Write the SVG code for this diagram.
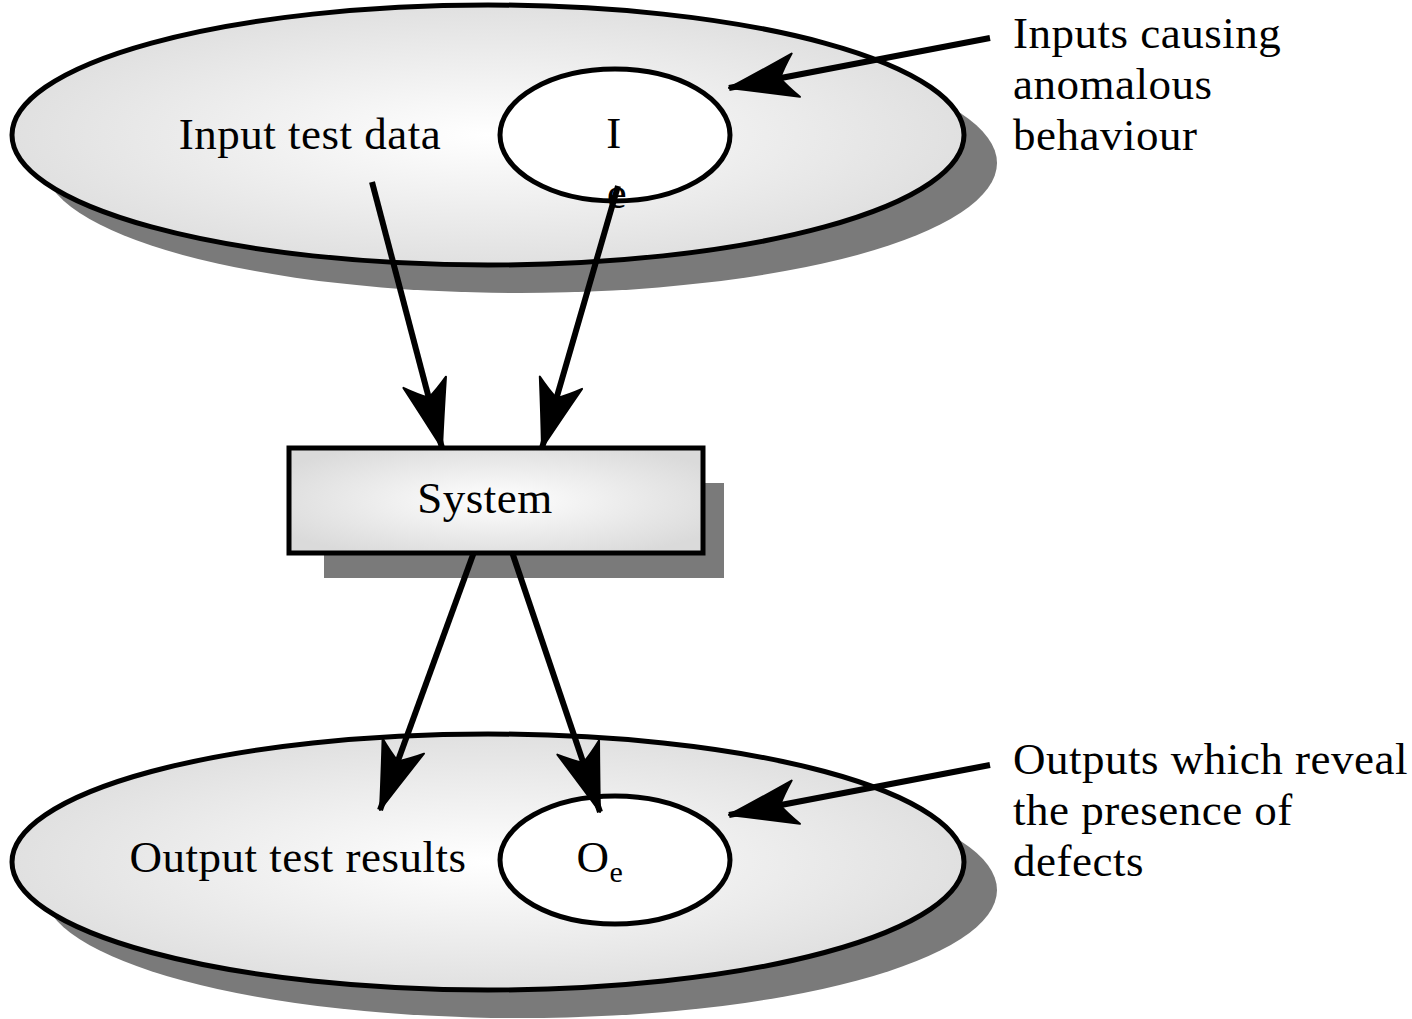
<svg xmlns="http://www.w3.org/2000/svg" width="1412" height="1019" viewBox="0 0 1412 1019">
<style>
.shadow{fill:#7a7a7a;stroke:none}
.shape{fill:url(#g);stroke:#000;stroke-width:5}
.inner{fill:#fff;stroke:#000;stroke-width:5}
.lbl{font-family:"Liberation Serif","Times New Roman",serif;font-size:45px;letter-spacing:0.5px;fill:#000}
.conn{stroke:#000;stroke-width:6;fill:none;marker-end:url(#ah)}
</style>
<defs>
<radialGradient id="g" cx="0.5" cy="0.5" r="0.6">
<stop offset="0" stop-color="#ffffff"/>
<stop offset="1" stop-color="#dadada"/>
</radialGradient>
<marker id="ah" markerUnits="userSpaceOnUse" markerWidth="80" markerHeight="50" viewBox="-72 -25 76 50" refX="0" refY="0" orient="auto">
<path d="M0,0 Q-32,-10 -68,-22 Q-58,-10 -52,0 Q-58,10 -68,22 Q-32,10 0,0 Z" fill="#000" stroke="#000" stroke-width="2" stroke-linejoin="round"/>
</marker>
</defs>
<rect width="1412" height="1019" fill="#fff"/>
<g id="input-set">
<ellipse class="shadow" cx="520" cy="163" rx="477" ry="130"/>
<ellipse class="shape" cx="488" cy="135" rx="476" ry="130"/>
<text class="lbl" x="310" y="149" text-anchor="middle">Input test data</text>
</g>
<g id="anomalous-inputs">
<ellipse class="inner" cx="615" cy="135" rx="115" ry="66"/>
<text class="lbl" x="614" y="148" text-anchor="middle">I</text>
<text class="lbl" x="617" y="208" text-anchor="middle" font-size="20">e</text>
</g>
<g id="system">
<rect class="shadow" x="324" y="483" width="400" height="95"/>
<rect class="shape" x="289" y="448" width="414" height="105"/>
<text class="lbl" x="485" y="513" text-anchor="middle">System</text>
</g>
<g id="output-set">
<ellipse class="shadow" cx="520" cy="890" rx="477" ry="128"/>
<ellipse class="shape" cx="488" cy="862" rx="476" ry="128"/>
<text class="lbl" x="298" y="872" text-anchor="middle">Output test results</text>
</g>
<g id="defect-outputs">
<ellipse class="inner" cx="615" cy="860" rx="115" ry="64"/>
<text class="lbl" x="600" y="872" text-anchor="middle">O<tspan font-size="30" dy="10">e</tspan></text>
</g>
<g id="note-inputs">
<text class="lbl" x="1013" y="48">Inputs causing</text>
<text class="lbl" x="1013" y="99">anomalous</text>
<text class="lbl" x="1013" y="150">behaviour</text>
</g>
<g id="note-outputs">
<text class="lbl" x="1013" y="774">Outputs which reveal</text>
<text class="lbl" x="1013" y="825">the presence of</text>
<text class="lbl" x="1013" y="876">defects</text>
</g>
<g id="connectors">
<line class="conn" x1="372" y1="182" x2="442" y2="448"/>
<line class="conn" x1="618" y1="186" x2="542" y2="448"/>
<line class="conn" x1="474" y1="552" x2="380" y2="810"/>
<line class="conn" x1="512" y1="552" x2="600" y2="812"/>
<line class="conn" x1="990" y1="38" x2="729" y2="88"/>
<line class="conn" x1="990" y1="765" x2="729" y2="815"/>
</g>
</svg>
